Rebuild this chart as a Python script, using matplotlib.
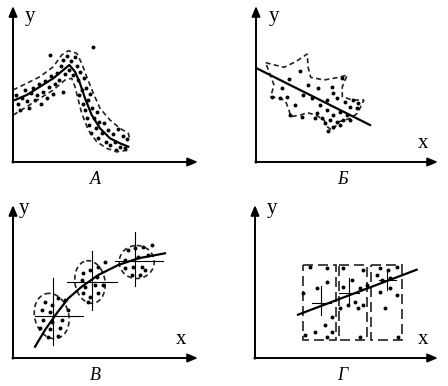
import matplotlib.pyplot as plt
from matplotlib.patches import Ellipse, Rectangle, Polygon

# panel A: curve, band edges, dots (picture pixels)
a_curve_x = [15, 26.7, 40, 53.3, 63.3, 69.3, 75, 80, 85, 91.7, 100, 110, 120, 128.3]
a_curve_y = [100, 95, 86.7, 78.3, 70, 65, 71.7, 83.3, 98.3, 115, 128.3, 138.3, 143.3, 146.7]
a_up_x = [13, 26.7, 40, 53.3, 61.7, 68.3, 76.7, 81.7, 86.7, 93.3, 100, 110, 120, 128.3, 130]
a_up_y = [90, 83.3, 76.7, 66.7, 55, 50.7, 53.3, 63.3, 76.7, 93.3, 108.3, 120, 128.3, 133.3, 140]
a_lo_x = [13.3, 26.7, 40, 53.3, 65, 71.7, 75, 78.3, 81.7, 88.3, 96.7, 106.7, 116.7, 130]
a_lo_y = [115, 106.7, 98.3, 90, 80, 78.3, 86.7, 100, 113.3, 130, 141.7, 148.3, 151.7, 150]
a_dots_x = [16, 18, 20, 22, 25, 27, 29, 31, 33, 35, 37, 39, 41, 43, 45, 47, 49, 51, 53, 55,
            57, 50, 63, 59, 61, 63, 65, 67, 69, 71, 73, 75, 77, 78, 80, 82, 84, 79, 86, 83,
            88, 85, 90, 87, 92, 89, 94, 91, 97, 96, 99, 98, 102, 104, 106, 108, 110, 113, 115,
            118, 120, 123, 125, 127, 116, 93.3]
a_dots_y = [95, 104, 110, 98, 90, 101, 108, 93, 88, 100, 95, 84, 104, 92, 81, 98, 87, 76, 94, 84,
            73, 55, 92, 80, 66, 60, 74, 56, 70, 61, 75, 57, 66, 80, 72, 90, 78, 95, 88, 104,
            100, 110, 94, 118, 108, 125, 118, 133, 112, 128, 122, 138, 133, 123, 142, 130, 145, 134, 142,
            129, 147, 136, 148, 139, 150, 47.3]

# panel Б: line, outline, dots
b_line_x = [256.7, 370]
b_line_y = [68.3, 125]
b_out_x = [265.7, 284, 295.7, 307.3, 308, 310.7, 324, 339, 347.3, 342.3, 342.3, 352.3, 364, 360.7,
           357.3, 350.7, 339, 332.3, 327.3, 324, 315.7, 307.3, 300.7, 290.7, 289, 285.7, 280.7,
           270.7, 274]
b_out_y = [62.7, 67.3, 61.7, 54, 66.7, 77.3, 80, 77.3, 75, 86.7, 96.7, 100, 100, 106.7,
           113.3, 118.3, 121.7, 130.7, 126.7, 120, 115, 112.7, 115, 116.7, 110, 101.7, 98.3,
           96.7, 85]
b_dots_x = [300, 289.3, 281.7, 308.3, 318.3, 331.7, 341.7, 271.7, 280, 286.7, 295, 303.3, 311.7,
            320, 326.7, 333.3, 336.7, 345, 353.3, 350, 356.7, 326.7, 333.3, 340, 346.7, 316.7,
            321.7, 330, 336.7, 343.3, 350, 325, 333.3, 340, 290, 301.7, 315, 328.3, 358.3]
b_dots_y = [71, 79, 88.3, 85, 88.3, 86.7, 78.3, 96.7, 97.7, 96.7, 105, 95, 98.3,
            105, 100, 93.3, 98.3, 101.7, 100, 106.7, 108.3, 110, 115, 111.7, 115, 113.3,
            118.3, 120, 121.7, 120, 120, 123.3, 126.7, 125, 115, 116.7, 118.3, 131, 103.3]

# panel В: curve, clusters (centre, size, cross extents), dots
c_curve_x = [35, 45, 56.7, 68.3, 81.7, 98.3, 118.3, 138.3, 165]
c_curve_y = [346.7, 330, 313.3, 298.3, 286.7, 275, 265, 258.3, 253.3]
c_cx = [51.7, 90, 136.7]
c_cy = [316, 282, 262]
c_w = [34, 30, 35]
c_h = [46, 43, 33]
c_ang = [-15, -10, 0]
c_vx = [53.3, 91.7, 135]
c_vy0 = [278, 251.3, 232.3]
c_vy1 = [344.7, 310.3, 286.3]
c_hy = [315.7, 282.3, 261.3]
c_hx0 = [35, 66.7, 115]
c_hx1 = [83.3, 116.7, 163.3]
c_dots_x = [45, 51.7, 58.3, 65, 41.7, 50, 68.3, 43.3, 51.7, 61.7, 40, 50, 60, 48.3, 58.3,
            83.3, 90, 98.3, 105, 81.7, 96.7, 85, 95, 103.3, 83.3, 90, 98.3, 88.3,
            128.3, 135, 143.3, 151.7, 125, 138.3, 148.3, 125, 133.3, 141.7, 131.7, 140, 145]
c_dots_y = [301.7, 305, 298.3, 300, 310, 311.7, 310, 320, 321.7, 320, 328.3, 329.3, 328.3, 336.7, 336,
            273.3, 270, 266.7, 261.7, 280, 276.7, 286.7, 285, 285, 293.3, 296.7, 293.3, 301.7,
            250, 248.3, 246.7, 245, 260, 256.7, 255, 268.3, 266.7, 266.7, 275, 275, 270]

# panel Г: boxes, line, crosses, dots
d_box_x0 = [303.3, 339, 370.7]
d_box_x1 = [335.7, 367.3, 402.3]
d_box_y0 = 264.7
d_box_y1 = 339.7
d_line_x = [298, 416.7]
d_line_y = [314.7, 269.7]
d_vx = [320.7, 349, 387.3]
d_vy0 = [286.3, 278, 271.3]
d_vy1 = [314.7, 304.7, 289.7]
d_hy = [303, 293, 280.3]
d_hx0 = [312.3, 339, 379]
d_hx1 = [330.7, 359, 395.7]
d_dots_x = [310, 326.7, 343.3, 363.3, 380, 396.7, 388.3, 376.7, 326.7, 316.7, 351.7, 343.3, 360,
            366.7, 381.7, 390, 380, 390, 396.7, 303.3, 340, 348.3, 355, 358.3, 363.3, 331.7,
            325, 315, 331.7, 385, 305, 326.7, 360, 398.3]
d_dots_y = [266.7, 268.3, 268.3, 270, 268.3, 266.7, 270, 275, 281.7, 288.3, 280, 286.7, 288.3,
            285, 280, 278.3, 291.7, 288.3, 295, 293.3, 308.3, 305, 301.7, 308.3, 305, 316.7,
            325, 331.7, 331.7, 308.3, 335, 336.7, 336.7, 336.7]

# axes frames: origin, top of y arrow, end of x arrow
frame_ox = [13, 256, 13, 255]
frame_oy = [162, 162, 358, 358]
frame_top = [6, 6, 205, 205]
frame_right = [198, 438, 198, 438]
ylab_pos = [(30, 16), (274, 16), (24, 209), (272, 209)]
xlab_pos = [None, (423, 144), (181, 340), (423, 340)]
panel_names = ['А', 'Б', 'В', 'Г']
name_pos = [(95, 180), (343, 180), (95, 376), (342, 376)]

fig = plt.figure(figsize=(4.48, 3.86), dpi=100)
ax = fig.add_axes([0, 0, 1, 1])
ax.set_xlim(0, 448)
ax.set_ylim(386, 0)
ax.axis('off')

arrow = dict(arrowstyle='-|>,head_length=0.6,head_width=0.25', color='black', lw=1.4,
             shrinkA=0, shrinkB=0)
for i in range(4):
    ax.annotate('', xy=(frame_ox[i], frame_top[i]), xytext=(frame_ox[i], frame_oy[i] + 0.7),
                arrowprops=arrow)
    ax.annotate('', xy=(frame_right[i], frame_oy[i]), xytext=(frame_ox[i] - 0.7, frame_oy[i]),
                arrowprops=arrow)
    ax.text(*ylab_pos[i], 'y', family='Liberation Serif', fontsize=15, ha='center', va='center')
    if xlab_pos[i]:
        ax.text(*xlab_pos[i], 'x', family='Liberation Serif', fontsize=15, ha='center', va='center')
    ax.text(*name_pos[i], panel_names[i], family='Liberation Serif', style='italic',
            fontsize=13, ha='center', va='center')

dash = dict(color='#222222', lw=1.2, linestyle=(0, (3, 2)))
dot = dict(s=8, color='black', linewidths=0)

# A
ax.plot(a_curve_x, a_curve_y, color='black', lw=1.6)
ax.plot(a_up_x, a_up_y, **dash)
ax.plot(a_lo_x, a_lo_y, **dash)
ax.scatter(a_dots_x, a_dots_y, **dot)

# Б
ax.add_patch(Polygon(list(zip(b_out_x, b_out_y)), closed=True, fill=False, **dash))
ax.plot(b_line_x, b_line_y, color='black', lw=1.6)
ax.scatter(b_dots_x, b_dots_y, **dot)

# В
for i in range(3):
    ax.add_patch(Ellipse((c_cx[i], c_cy[i]), c_w[i], c_h[i], angle=c_ang[i], fill=False, **dash))
    ax.plot([c_vx[i], c_vx[i]], [c_vy0[i], c_vy1[i]], color='black', lw=0.8)
    ax.plot([c_hx0[i], c_hx1[i]], [c_hy[i], c_hy[i]], color='black', lw=0.8)
ax.plot(c_curve_x, c_curve_y, color='black', lw=1.6)
ax.scatter(c_dots_x, c_dots_y, **dot)

# Г
for i in range(3):
    ax.add_patch(Rectangle((d_box_x0[i], d_box_y0), d_box_x1[i] - d_box_x0[i],
                           d_box_y1 - d_box_y0, fill=False, color='#222222', lw=1.2,
                           linestyle=(0, (6, 3))))
    ax.plot([d_vx[i], d_vx[i]], [d_vy0[i], d_vy1[i]], color='black', lw=0.8)
    ax.plot([d_hx0[i], d_hx1[i]], [d_hy[i], d_hy[i]], color='black', lw=0.8)
ax.plot(d_line_x, d_line_y, color='black', lw=1.6)
ax.scatter(d_dots_x, d_dots_y, **dot)

fig.savefig('out.png', dpi=100)
